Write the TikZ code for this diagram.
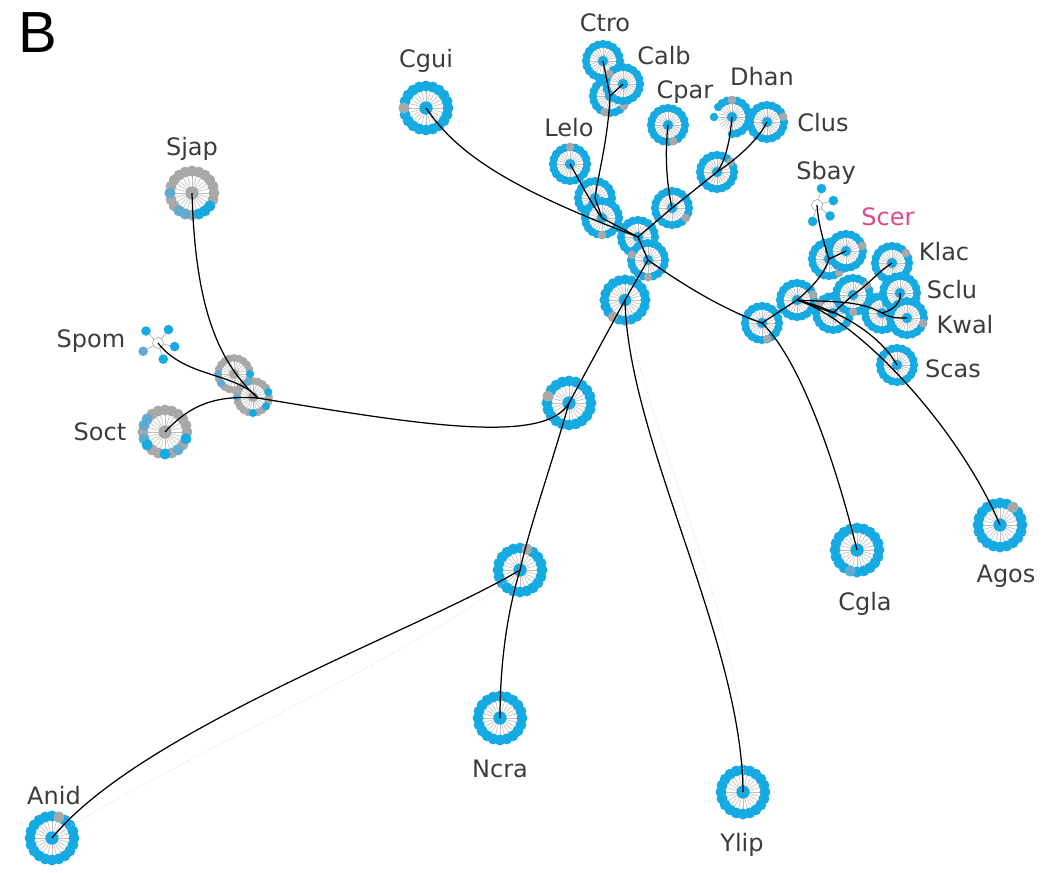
\documentclass[tikz,border=0pt]{standalone}
\usepackage{fontspec}
\setmainfont{DejaVu Sans}
\newfontfamily\panelfont{Liberation Sans}
\definecolor{dotblue}{RGB}{22,170,226}
\definecolor{dotgray}{RGB}{168,168,168}
\definecolor{dotmuted}{RGB}{96,172,208}
\definecolor{spokegray}{RGB}{190,190,190}
\definecolor{labelgray}{RGB}{60,60,60}
\definecolor{scerpink}{RGB}{226,72,140}

% ring of state dots: name, position, radius, base colour, centre colour,
% grey angles, muted-blue angles, blue angles
\newcommand\Ring[8]{%
  \coordinate (#1) at (#2);
  \pgfmathsetmacro\ringR{#3}%
  \pgfmathsetmacro\dotR{0.25*#3}%
  \pgfmathsetmacro\spkR{0.8*#3}%
  \pgfmathsetmacro\cenR{0.3*#3}%
  \fill[white] (#1) circle (\spkR pt);
  \foreach \a in {0,15,...,345} \draw[spoke] (#1) -- ++(\a:\spkR pt);
  \foreach \a in {0,18,...,342} \fill[#4] (#1) ++(\a:\ringR pt) circle (\dotR pt);
  \foreach \a in {#6} {\ifx\a\empty\else\fill[dotgray] (#1) ++(\a:\ringR pt) circle (\dotR pt);\fi}
  \foreach \a in {#7} {\ifx\a\empty\else\fill[dotmuted] (#1) ++(\a:\ringR pt) circle (\dotR pt);\fi}
  \foreach \a in {#8} {\ifx\a\empty\else\fill[dotblue] (#1) ++(\a:\ringR pt) circle (\dotR pt);\fi}
  \fill[#5] (#1) circle (\cenR pt);
}
% sparse node: open centre with a few dots
\newcommand\Burst[3]{%
  \coordinate (#1) at (#2);
  \foreach \a/\c in {#3} {\draw[spoke,dotgray] (#1) -- ++(\a:15pt); \fill[\c] (#1) ++(\a:17pt) circle (4.8pt);}
  \draw[dotgray,line width=0.6pt,fill=white] (#1) circle (5.5pt);
}

\begin{document}
\begin{tikzpicture}[x=1pt,y=-1pt,
  edge/.style={line width=1.25pt,black},
  faint/.style={dotgray!45,line width=0.8pt,dotted},
  spoke/.style={spokegray,line width=0.6pt},
  lab/.style={text=labelgray,font=\fontsize{24}{28}\selectfont,anchor=base,inner sep=0pt}]
\useasboundingbox (0,0) rectangle (1053,873);
\fill[white] (0,0) rectangle (1053,873);

% ---- rings (big leaves / small internal) ----
\def\big{22}\def\sml{17}
\Ring{sjap}{192,193}{\big}{dotgray}{dotgray}{}{180,234,252}{288,306,324}
\Ring{soct}{165,432}{\big}{dotgray}{dotgray}{}{144,162,198,306}{216,270,342}
\Ring{sj1}{234,374}{16}{dotgray}{dotgray}{}{180,216}{0}
\Ring{sj2}{253,397}{16}{dotgray}{dotgray}{}{108,180}{18,324,270}
\coordinate (jct) at (258,398);
\Burst{spom}{158,343}{135/dotblue,52/dotblue,-12/dotblue,-72/dotblue,209/dotmuted}

\Ring{cgui}{426,108}{\big}{dotblue}{dotblue}{180}{}{}
\Ring{ctro}{603,61}{\sml}{dotblue}{dotblue}{}{}{}
\Ring{ca}{610,96}{\sml}{dotblue}{dotblue}{252,324}{}{}
\Ring{calb}{623,84}{\sml}{dotblue}{dotblue}{144}{}{}
\Ring{lelo}{570,164}{\sml}{dotblue}{dotblue}{90}{}{}
\Ring{a}{595,198}{\sml}{dotblue}{dotblue}{270}{}{}
\Ring{b}{602,218}{\sml}{dotblue}{dotblue}{270}{}{}
\Ring{cpar}{668,125}{\sml}{dotblue}{dotblue}{288}{}{}
\Ring{clus}{767,122}{\sml}{dotblue}{dotblue}{18}{}{}
\Ring{e}{717,172}{\sml}{dotblue}{dotblue}{36}{}{}
\Ring{d}{672,208}{\sml}{dotblue}{dotblue}{324}{}{}
\Ring{c}{638,237}{\sml}{dotblue}{dotblue}{}{}{}
\Ring{f}{648,260}{\sml}{dotblue}{dotblue}{162,270}{}{}
\Ring{g}{625,300}{20.5}{dotblue}{dotblue}{234}{}{}
% Dhan: ring with a gap on its left
\coordinate (dhan) at (732,117);
\fill[white] (dhan) circle (13.6pt);
\foreach \a in {0,15,...,345} \draw[spoke] (dhan) -- ++(\a:13.6pt);
\foreach \a in {-90,-72,...,144} \fill[dotblue] (dhan) ++(\a:17pt) circle (4.25pt);
\fill[dotgray] (dhan) ++(90:17pt) circle (4.25pt);
\fill[dotblue] (dhan) ++(180:18pt) circle (4.25pt);
\fill[dotblue] (dhan) circle (5.1pt);

\Ring{h}{569,403}{\big}{dotblue}{dotblue}{162}{}{}
\Ring{i}{520,570}{\big}{dotblue}{dotblue}{72}{}{}
\Ring{ncra}{500,718}{\big}{dotblue}{dotblue}{}{}{}
\Ring{ylip}{743,792}{\big}{dotblue}{dotblue}{}{}{}
\Ring{anid}{52,838}{\big}{dotblue}{dotblue}{72}{}{}
\Ring{cgla}{857,550}{\big}{dotblue}{dotblue}{}{252}{}
\Ring{agos}{1000,525}{\big}{dotblue}{dotblue}{54}{}{}

\Ring{r1}{762,323}{\sml}{dotblue}{dotblue}{288}{}{}
\Ring{r2}{797,300}{\sml}{dotblue}{dotblue}{18}{}{}
\Ring{r5}{833,313}{\sml}{dotblue}{dotblue}{144}{}{}
\Ring{r4}{853,295}{\sml}{dotblue}{dotblue}{36,270}{}{}
\Ring{r6}{882,313}{\sml}{dotblue}{dotblue}{}{}{}
\Ring{scas}{897,365}{\sml}{dotblue}{dotblue}{}{}{}
\Ring{klac}{892,263}{\sml}{dotblue}{dotblue}{36}{}{}
\Ring{sclu}{900,293}{\sml}{dotblue}{dotblue}{324}{}{}
\Ring{kwal}{907,318}{\sml}{dotblue}{dotblue}{342}{}{}
\Ring{sp}{829,259}{\sml}{dotblue}{dotblue}{306}{}{}
\Ring{scer}{846,251}{\sml}{dotblue}{dotblue}{18}{}{}
\Burst{sbay}{817,205}{75/dotblue,15/dotblue,-40/dotblue,-105/dotblue}

% ---- faint alternative branches ----
\draw[faint] (g) .. controls (650,450) and (752,630) .. (ylip);
\draw[faint] (anid) .. controls (170,760) and (430,650) .. (i);

% ---- tree edges ----
\draw[edge] (cgui) .. controls (455,150) and (500,185) .. (c);
\draw[edge] (ctro) -- (ca);
\draw[edge] (calb) -- (ca);
\draw[edge] (ca) .. controls (608,140) and (598,175) .. (a);
\draw[edge] (a) -- (b);
\draw[edge] (lelo) .. controls (582,185) and (592,205) .. (b);
\draw[edge] (b) -- (c);
\draw[edge] (cpar) .. controls (664,160) and (668,190) .. (d);
\draw[edge] (dhan) .. controls (730,140) and (726,160) .. (e);
\draw[edge] (clus) .. controls (758,140) and (738,158) .. (e);
\draw[edge] (e) -- (d);
\draw[edge] (d) -- (c);
\draw[edge] (c) -- (f);
\draw[edge] (f) -- (g);
\draw[edge] (f) .. controls (690,290) and (730,312) .. (r1);
\draw[edge] (g) -- (h);
\draw[edge] (g) .. controls (628,440) and (742,640) .. (ylip);
\draw[edge] (h) .. controls (550,470) and (530,525) .. (i);
\draw[edge] (h) .. controls (545,445) and (420,425) .. (jct);
\draw[edge] (i) .. controls (508,610) and (500,660) .. (ncra);
\draw[edge] (i) .. controls (420,630) and (140,730) .. (anid);
\draw[edge] (sjap) .. controls (195,300) and (215,360) .. (jct);
\draw[edge] (spom) .. controls (185,378) and (235,372) .. (jct);
\draw[edge] (soct) .. controls (190,405) and (215,395) .. (jct);
\draw[edge] (r1) -- (r2);
\draw[edge] (r1) .. controls (800,360) and (835,460) .. (cgla);
\draw[edge] (r2) .. controls (860,320) and (960,430) .. (agos);
\draw[edge] (r2) .. controls (840,310) and (880,335) .. (scas);
\draw[edge] (r2) .. controls (815,285) and (825,272) .. (sp);
\draw[edge] (sp) .. controls (823,240) and (818,222) .. (sbay);
\draw[edge] (sp) -- (scer);
\draw[edge] (r2) -- (r5);
\draw[edge] (r5) -- (r4);
\draw[edge] (r4) .. controls (868,285) and (878,272) .. (klac);
\draw[edge] (r2) .. controls (830,302) and (860,300) .. (r6);
\draw[edge] (r6) .. controls (895,310) and (902,300) .. (sclu);
\draw[edge] (r6) .. controls (890,318) and (898,318) .. (kwal);

% ---- labels ----
\node[lab] (tcgui) at (426,67) {Cgui};
\node[lab] (tctro) at (605,31) {Ctro};
\node[lab] (tcalb) at (664,64) {Calb};
\node[lab] (tcpar) at (685,98) {Cpar};
\node[lab] (tdhan) at (762,85) {Dhan};
\node[lab] (tclus) at (823,131) {Clus};
\node[lab] (tlelo) at (569,136) {Lelo};
\node[lab] (tsjap) at (192,155) {Sjap};
\node[lab] (tspom) at (91,347) {Spom};
\node[lab] (tsoct) at (100,440) {Soct};
\node[lab] (tsbay) at (826,179) {Sbay};
\node[lab,text=scerpink] (tscer) at (888,225) {Scer};
\node[lab] (tklac) at (944,260) {Klac};
\node[lab] (tsclu) at (952,298) {Sclu};
\node[lab] (tkwal) at (965,333) {Kwal};
\node[lab] (tscas) at (953,377) {Scas};
\node[lab] (tcgla) at (865,610) {Cgla};
\node[lab] (tagos) at (1006,582) {Agos};
\node[lab] (tncra) at (500,777) {Ncra};
\node[lab] (tylip) at (742,851) {Ylip};
\node[lab] (tanid) at (54,804) {Anid};
\node[anchor=base west,inner sep=0pt,font=\panelfont\fontsize{58}{60}\selectfont] (panel) at (18,52) {B};
\end{tikzpicture}
\end{document}
